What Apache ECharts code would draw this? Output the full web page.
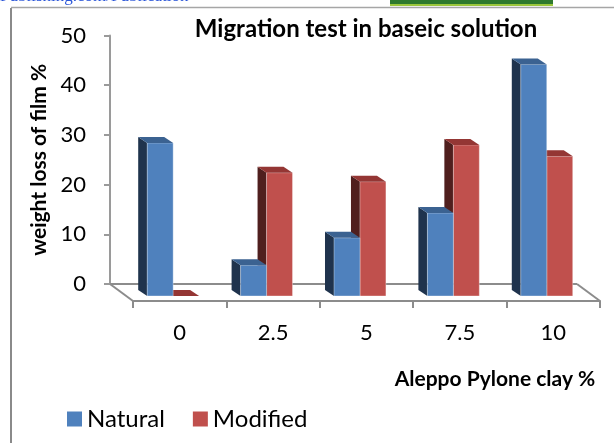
<!DOCTYPE html>
<html>
<head>
<meta charset="utf-8">
<script src="https://cdn.jsdelivr.net/npm/echarts@6/dist/echarts.min.js"></script>
<style>
html,body{margin:0;padding:0;background:#fff;}
#chart{width:614px;height:443px;}
</style>
</head>
<body>
<div id="chart"></div>
<script>
// data
var categories = ['0', '2.5', '5', '7.5', '10'];
var natural = [30.8, 6.2, 11.7, 16.7, 46.6];
var modified = [0, 24.8, 23, 30.4, 28.1];
var yMin = 0, yMax = 50, yStep = 10;

// 3d look: floor depth and bar depth (px)
var FLOOR_DX = 23, FLOOR_DY = 17;
var BAR_DX = 9, BAR_DY = 6, BAR_SHIFT_Y = 12;

var FONT = 'Lato';

function toPairs(arr){
    return arr.map(function(v, i){ return [i, v]; });
}

// draws one 3d column, slot 0 = Natural, slot 1 = Modified
function barRenderer(slot, front, side, top){
    return function(params, api){
        var i = api.value(0);
        var v = api.value(1);
        var base = api.coord([i, 0]);
        var head = api.coord([i, v]);
        var band = api.size([1, 0])[0];
        var w = band * 0.278;
        var x0 = base[0] + FLOOR_DX - band * 0.348 + slot * w;
        var yb = base[1] + BAR_SHIFT_Y;
        var yt = head[1] + BAR_SHIFT_Y;
        var children = [];
        children.push({
            type: 'polygon',
            shape: {points: [[x0, yt], [x0, yb], [x0 - BAR_DX, yb - BAR_DY], [x0 - BAR_DX, yt - BAR_DY]]},
            style: {fill: side}
        });
        if (yb - yt > 0.5) {
            children.push({
                type: 'rect',
                shape: {x: x0, y: yt, width: w, height: yb - yt},
                style: {fill: front, stroke: 'rgba(255,255,255,0.35)', lineWidth: 1}
            });
        }
        children.push({
            type: 'polygon',
            shape: {points: [[x0, yt], [x0 + w, yt], [x0 + w - BAR_DX, yt - BAR_DY], [x0 - BAR_DX, yt - BAR_DY]]},
            style: {fill: top}
        });
        return {type: 'group', children: children};
    };
}

// back edge and the two slanted edges of the floor
function floorRenderer(params, api){
    var cs = params.coordSys;
    var y0 = api.coord([0, 0])[1];
    var xl = cs.x, xr = cs.x + cs.width;
    var st = {stroke: '#8c8c8c', lineWidth: 2};
    return {type: 'group', children: [
        {type: 'polyline', shape: {points: [[xl, y0], [xr, y0]]}, style: st},
        {type: 'polyline', shape: {points: [[xl, y0], [xl + FLOOR_DX, y0 + FLOOR_DY]]}, style: st},
        {type: 'polyline', shape: {points: [[xr, y0], [xr + FLOOR_DX, y0 + FLOOR_DY]]}, style: st}
    ]};
}

var myChart = echarts.init(document.getElementById('chart'), null, {renderer: 'canvas'});

var option = {
    backgroundColor: '#fff',
    animation: false,
    textStyle: {fontFamily: FONT},
    title: [{
        text: 'Migration test in baseic solution',
        left: 361, top: 12, textAlign: 'center',
        textStyle: {fontFamily: FONT, fontWeight: 'bold', fontSize: 24, color: '#000'}
    }, {
        text: 'Aleppo Pylone clay %',
        left: 490, top: 364, textAlign: 'center',
        textStyle: {fontFamily: FONT, fontWeight: 'bold', fontSize: 21, color: '#000'}
    }],
    legend: {
        data: ['Natural', 'Modified'],
        left: 62, top: 402,
        icon: 'rect', itemWidth: 15, itemHeight: 15, itemGap: 28,
        textStyle: {fontFamily: FONT, fontSize: 24, color: '#000'}
    },
    graphic: [
        {type: 'line', shape: {x1: 11, y1: 8, x2: 11, y2: 443}, style: {stroke: '#8a8a8a', lineWidth: 2}},
        {type: 'line', shape: {x1: 11, y1: 7.5, x2: 614, y2: 7.5}, style: {stroke: '#a6a6a6', lineWidth: 1.5}},
        {type: 'text', left: 0, top: -12, style: {text: 'Publishing.com/Publication', fill: '#2a55d8', font: '17px "Liberation Serif"'}},
        {type: 'rect', shape: {x: 390, y: 0, width: 163, height: 4}, style: {fill: '#2f7a2e'}},
        {type: 'rect', shape: {x: 390, y: 4, width: 163, height: 2}, style: {fill: '#9cc73c'}}
    ],
    grid: [
        {left: 110, right: 37, top: 35.5, height: 248.5},
        {left: 133, right: 14, top: 52.5, height: 248.5}
    ],
    xAxis: [{
        gridIndex: 0, type: 'category', data: categories, show: false
    }, {
        gridIndex: 1, type: 'category', data: categories,
        axisLine: {lineStyle: {color: '#8c8c8c', width: 2}},
        axisTick: {show: true, length: 7, lineStyle: {color: '#8c8c8c', width: 2}},
        axisLabel: {margin: 21, fontFamily: FONT, fontSize: 22, color: '#000'}
    }],
    yAxis: [{
        gridIndex: 0, type: 'value', min: yMin, max: yMax, interval: yStep,
        name: 'weight loss of film %', nameLocation: 'middle', nameRotate: 90, nameGap: 60,
        nameTextStyle: {fontFamily: FONT, fontWeight: 'bold', fontSize: 21, color: '#000'},
        axisLine: {show: true, lineStyle: {color: '#9a9a9a', width: 2}},
        axisTick: {show: true, length: 6, lineStyle: {color: '#9a9a9a', width: 2}},
        axisLabel: {margin: 24, fontFamily: FONT, fontSize: 22, color: '#000'},
        splitLine: {show: false}
    }, {
        gridIndex: 1, type: 'value', min: yMin, max: yMax, show: false, splitLine: {show: false}
    }],
    series: [{
        name: 'floor', type: 'custom', xAxisIndex: 0, yAxisIndex: 0, z: 1,
        data: [[0, 0]], renderItem: floorRenderer, silent: true
    }, {
        name: 'Modified', type: 'custom', xAxisIndex: 0, yAxisIndex: 0, z: 2,
        itemStyle: {color: '#C0504D'},
        encode: {x: 0, y: 1},
        data: toPairs(modified),
        renderItem: barRenderer(1, '#C0504D', '#4f1f1e', '#943634')
    }, {
        name: 'Natural', type: 'custom', xAxisIndex: 0, yAxisIndex: 0, z: 3,
        itemStyle: {color: '#4F81BD'},
        encode: {x: 0, y: 1},
        data: toPairs(natural),
        renderItem: barRenderer(0, '#4F81BD', '#1f334d', '#3b6291')
    }]
};
myChart.setOption(option);
</script>
</body>
</html>
